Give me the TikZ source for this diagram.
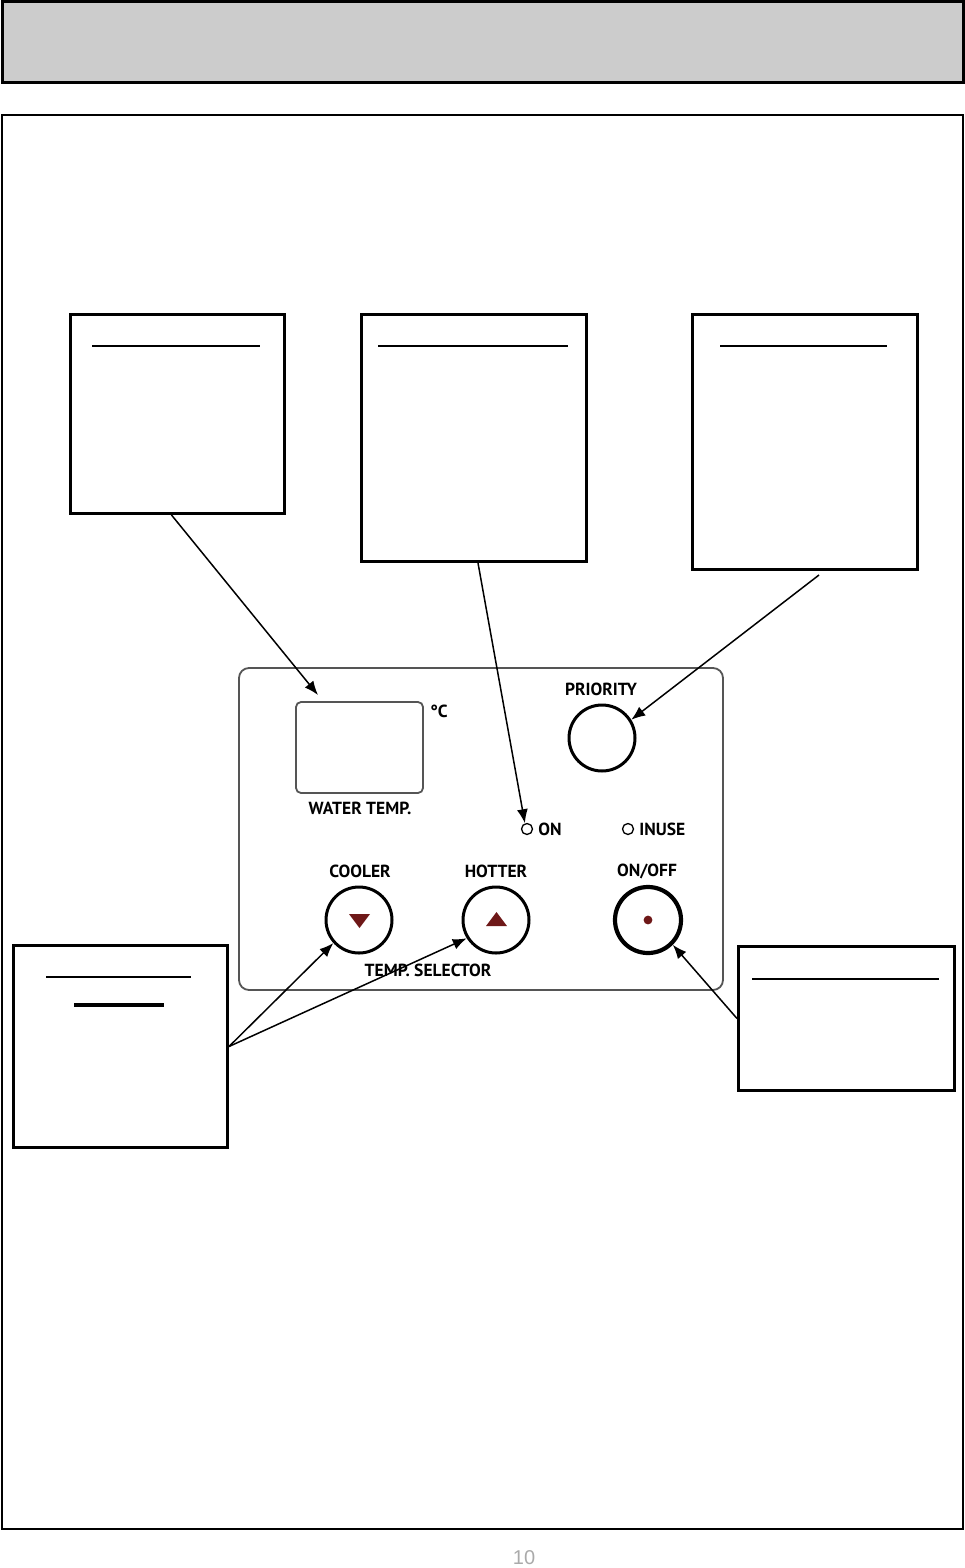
\documentclass[tikz,border=0pt]{standalone}
\usepackage{fontspec}
\newfontfamily\panelfont{PT Sans}
\newfontfamily\pagefont{Liberation Sans}
\usepackage{tikz}
\usetikzlibrary{arrows.meta,calc,positioning}
\definecolor{HeaderGray}{RGB}{204,204,204}
\definecolor{PanelGray}{RGB}{85,85,85}
\definecolor{KnobRed}{RGB}{110,24,24}
\definecolor{PageGray}{RGB}{170,170,170}

\begin{document}
\begin{tikzpicture}[x=1pt,y=-1pt,>=Latex,
    callout/.style={draw,line width=3pt,anchor=north west,inner sep=0pt},
    knob/.style={draw,circle,line width=3pt,minimum size=66pt,inner sep=0pt},
    led/.style={draw,circle,line width=1.3pt,minimum size=11pt,inner sep=0pt},
    lbl/.style={font=\panelfont\bfseries\fontsize{17.5}{19}\selectfont,inner sep=0pt},
    pointer/.style={-{Latex[length=14pt,width=11pt]},line width=1.5pt}]
  \useasboundingbox (0,0) rectangle (965,1568);
  % page frame
  \draw[fill=HeaderGray,line width=3pt] (2,2) rectangle (963,83);
  \draw[line width=2.4pt] (2,115) rectangle (963,1529);
  % callout boxes
  \node[callout,minimum width=214pt,minimum height=199pt] (boxA) at (69,313) {};
  \node[callout,minimum width=225pt,minimum height=247pt] (boxB) at (360,313) {};
  \node[callout,minimum width=225pt,minimum height=255pt] (boxC) at (691,313) {};
  \node[callout,minimum width=214pt,minimum height=202pt] (boxD) at (12,944) {};
  \node[callout,minimum width=216pt,minimum height=144pt] (boxE) at (737,945) {};
  \draw[line width=2.6pt] ($(boxA.north west)+(23,33)$) -- ++(168,0);
  \draw[line width=2.6pt] ($(boxB.north west)+(18,33)$) -- ++(190,0);
  \draw[line width=2.6pt] ($(boxC.north west)+(29,33)$) -- ++(167,0);
  \draw[line width=2.6pt] ($(boxD.north west)+(34,33)$) -- ++(145,0);
  \draw[line width=3.2pt] ($(boxD.north west)+(62,61)$) -- ++(90,0);
  \draw[line width=2.6pt] ($(boxE.north west)+(15,34)$) -- ++(187,0);
  % control panel
  \draw[PanelGray,line width=1.8pt,rounded corners=10pt] (239,668) rectangle (723,990);
  \draw[PanelGray,line width=1.8pt,rounded corners=5pt] (296,702) rectangle (423,793);
  \coordinate (display) at (318,695);
  \node[lbl] (degc) at (439,711) {°C};
  \node[lbl] (wtemp) at (360,808) {WATER TEMP.};
  \node[lbl] (prio) at (601,689) {PRIORITY};
  \node[knob] (priority) at (602,738) {};
  \node[led] (onled) at (527,829) {};
  \node[lbl,right=5pt of onled] (ontext) {ON};
  \node[led] (useled) at (628,829) {};
  \node[lbl,right=5pt of useled] (usetext) {INUSE};
  \node[lbl] (cooltext) at (360,871) {COOLER};
  \node[lbl] (hottext) at (496,871) {HOTTER};
  \node[lbl] (offtext) at (647,871) {ON/OFF};
  \node[knob] (cooler) at (359,920) {};
  \node[knob] (hotter) at (496,920) {};
  \node[knob,line width=4.2pt] (onoff) at (648,920) {};
  \fill[KnobRed] (349,914) -- (370,914) -- (359.5,928) -- cycle;
  \fill[KnobRed] (486,926) -- (507,926) -- (496.5,912) -- cycle;
  \fill[KnobRed] (onoff.center) circle (4.4);
  \node[lbl] (selector) at (428,970) {TEMP. SELECTOR};
  % pointers
  \draw[pointer] ([xshift=-6pt]boxA.south) -- (display);
  \draw[pointer] ([xshift=4pt]boxB.south) -- (onled.110);
  \draw[pointer] ([xshift=14pt,yshift=-4pt]boxC.south) -- (priority.32);
  \draw[pointer] (boxD.east) -- (cooler.222);
  \draw[pointer] (boxD.east) -- (hotter.212);
  \draw[pointer] (boxE.west) -- (onoff.-45);
  % page number
  \node[PageGray,font=\pagefont\fontsize{20}{22}\selectfont] (pagenum) at (524,1558) {10};
\end{tikzpicture}
\end{document}
